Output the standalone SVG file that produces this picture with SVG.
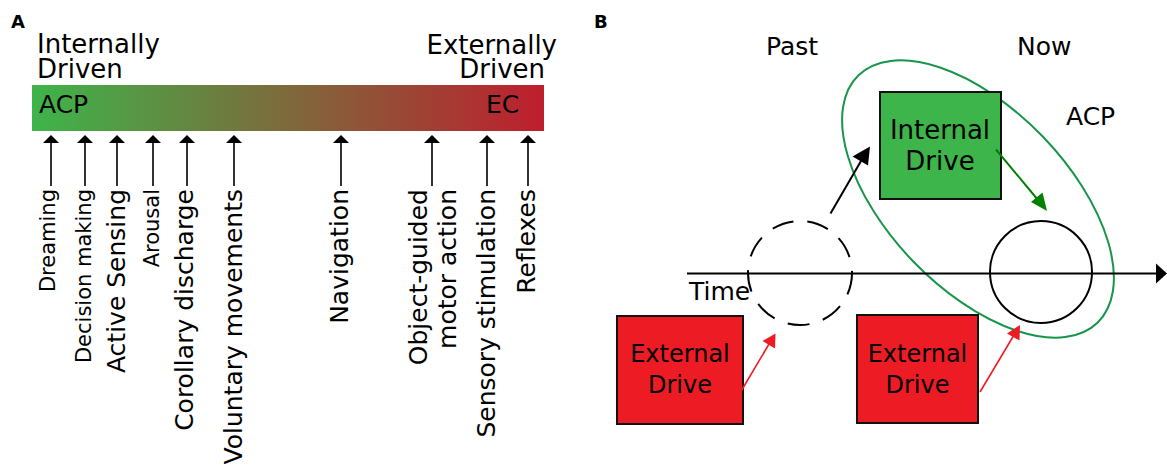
<svg xmlns="http://www.w3.org/2000/svg" width="1167" height="468" viewBox="0 0 1167 468">
<style>
text{font-family:"DejaVu Sans",sans-serif;fill:#000}
.b{font-weight:bold;font-size:18px}
.t{font-size:25px}
.s{font-size:21px}
.ln{stroke:#000;stroke-width:1.6;fill:none}
.box{stroke:#111;stroke-width:2}
</style>
<defs>
<linearGradient id="g" x1="0" x2="1" y1="0" y2="0">
<stop offset="0" stop-color="#3db54a"/>
<stop offset="1" stop-color="#be1e2d"/>
</linearGradient>
<marker id="ah" viewBox="0 0 10 10" refX="10" refY="5" markerWidth="10" markerHeight="10" markerUnits="userSpaceOnUse" orient="auto"><path d="M0,0L10,5L0,10z" fill="#000"/></marker>
</defs>

<g id="panelA">
<text class="b" x="11" y="28">A</text>
<text class="t" x="37" y="53" style="font-size:26px">Internally</text>
<text class="t" x="37" y="78" style="font-size:26px">Driven</text>
<text class="t" x="557" y="54" text-anchor="end" style="font-size:26px">Externally</text>
<text class="t" x="545" y="78" text-anchor="end" style="font-size:26px">Driven</text>
<g id="bar">
<rect x="32" y="85" width="512" height="46" fill="url(#g)"/>
<text class="t" x="39" y="113">ACP</text>
<text class="t" x="486" y="113">EC</text>
</g>
</g>

<g id="connectorsA">
<g fill="#000">
<path d="M51,135l-8,8h16z"/><path d="M85,135l-8,8h16z"/><path d="M117,135l-8,8h16z"/><path d="M153,135l-8,8h16z"/><path d="M187,135l-8,8h16z"/><path d="M234,135l-8,8h16z"/><path d="M341,135l-8,8h16z"/><path d="M432,135l-8,8h16z"/><path d="M487,135l-8,8h16z"/><path d="M528,135l-8,8h16z"/>
</g>
<path class="ln" d="M51,142V186M85,142V186M117,142V186M153,142V186M187,142V186M234,142V186M341,142V186M432,142V186M487,142V186M528,142V186"/>
</g>

<g id="labelsA">
<text class="s" transform="translate(55,189) rotate(-90)" text-anchor="end">Dreaming</text>
<text class="s" transform="translate(90.5,189) rotate(-90)" text-anchor="end">Decision making</text>
<text class="t" transform="translate(125,189) rotate(-90)" text-anchor="end">Active Sensing</text>
<text class="s" transform="translate(158.5,189) rotate(-90)" text-anchor="end">Arousal</text>
<text class="t" transform="translate(193,189) rotate(-90)" text-anchor="end">Corollary discharge</text>
<text class="t" transform="translate(242,189) rotate(-90)" text-anchor="end">Voluntary movements</text>
<text class="t" transform="translate(348,189) rotate(-90)" text-anchor="end">Navigation</text>
<text class="t" transform="translate(427,189) rotate(-90)" text-anchor="end">Object-guided</text>
<text class="t" transform="translate(456,189) rotate(-90)" text-anchor="end">motor action</text>
<text class="t" transform="translate(495,189) rotate(-90)" text-anchor="end">Sensory stimulation</text>
<text class="t" transform="translate(535,189) rotate(-90)" text-anchor="end">Reflexes</text>
</g>

<g id="panelB">
<text class="b" x="594" y="28">B</text>
<text class="t" x="766" y="55">Past</text>
<text class="t" x="1017" y="55">Now</text>
<text class="t" x="1066" y="125">ACP</text>
<text class="t" x="689" y="300">Time</text>
</g>

<g id="acp-ellipse">
<ellipse cx="978" cy="199" rx="172" ry="90" transform="rotate(46 978 199)" fill="none" stroke="#17964a" stroke-width="2"/>
</g>

<g id="internal-drive">
<rect class="box" x="880" y="92" width="121" height="107" fill="#3db54a"/>
<text class="t" x="940" y="139" text-anchor="middle" style="font-size:26px">Internal</text>
<text class="t" x="940" y="170" text-anchor="middle" style="font-size:26px">Drive</text>
</g>

<g id="external-drive-past">
<rect class="box" x="617" y="316" width="126" height="108" fill="#ed1c24"/>
<text class="t" x="680" y="362" text-anchor="middle" style="font-size:24px">External</text>
<text class="t" x="680" y="393" text-anchor="middle" style="font-size:24px">Drive</text>
</g>

<g id="external-drive-now">
<rect class="box" x="857" y="315" width="121" height="108" fill="#ed1c24"/>
<text class="t" x="917.5" y="362" text-anchor="middle" style="font-size:24px">External</text>
<text class="t" x="917.5" y="393" text-anchor="middle" style="font-size:24px">Drive</text>
</g>

<g id="past-state">
<circle cx="800" cy="273" r="52" fill="none" stroke="#000" stroke-width="2" stroke-dasharray="22,14"/>
</g>
<g id="now-state">
<circle cx="1041" cy="272" r="51" fill="none" stroke="#000" stroke-width="2"/>
</g>

<g id="connectorsB">
<path d="M687,273.5H1157" stroke="#000" stroke-width="2"/>
<path d="M1167,273.5l-11,-10v20z" fill="#000"/>
<path d="M830.5,213.5L861,161" stroke="#000" stroke-width="2"/>
<path d="M870,146.5l-17.5,10l15.5,9z" fill="#000"/>
<path d="M996,149.5L1038,200" stroke="#008000" stroke-width="2"/>
<path d="M1047,211l-16,-9l11.5,-9.5z" fill="#008000"/>
<path d="M740,393L769,344" stroke="#ed1c24" stroke-width="1.6"/>
<path d="M775.5,333.5l-13,7.5l12.5,7.5z" fill="#ed1c24"/>
<path d="M980,392L1014,335" stroke="#ed1c24" stroke-width="1.6"/>
<path d="M1020,325l-13,8.5l12.5,7z" fill="#ed1c24"/>
</g>
</svg>
